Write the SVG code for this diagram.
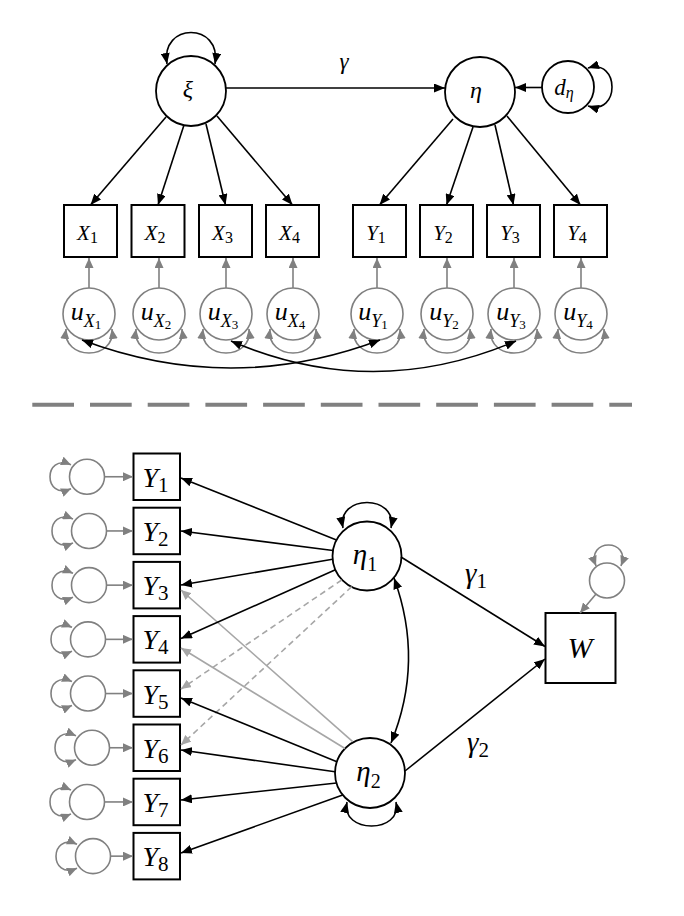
<svg xmlns="http://www.w3.org/2000/svg" width="684" height="916" viewBox="0 0 684 916">
<style>
.blk{stroke:#000;stroke-width:1.6;fill:none}
.box{fill:#fff;stroke:#000;stroke-width:2}
.lat{fill:#fff;stroke:#000;stroke-width:1.8}
.err{fill:#fff;stroke:#808080;stroke-width:1.6}
.gry{stroke:#808080;stroke-width:1.6;fill:none}
.lgt{stroke:#a6a6a6;stroke-width:1.6;fill:none}
.dsh{stroke:#a6a6a6;stroke-width:1.6;stroke-dasharray:6 4;fill:none}
.sep{stroke:#808080;stroke-width:4;stroke-dasharray:41.7 16;fill:none}
text{font-family:"Liberation Serif","DejaVu Serif",serif;fill:#000;text-anchor:middle}
.i{font-style:italic}
.ab{marker-end:url(#ah)}
.abb{marker-start:url(#ah);marker-end:url(#ah)}
.ag{marker-end:url(#ahg)}
.agg{marker-start:url(#ahg);marker-end:url(#ahg)}
.al{marker-end:url(#ahl)}
</style>
<defs>
<marker id="ah" viewBox="0 0 11 9" refX="11" refY="4.5" markerWidth="11" markerHeight="9" orient="auto-start-reverse" markerUnits="userSpaceOnUse"><path d="M0,0L11,4.5L0,9z" fill="#000"/></marker>
<marker id="ahg" viewBox="0 0 10 9" refX="10" refY="4.5" markerWidth="10" markerHeight="9" orient="auto-start-reverse" markerUnits="userSpaceOnUse"><path d="M0,0L10,4.5L0,9z" fill="#808080"/></marker>
<marker id="ahl" viewBox="0 0 10 9" refX="10" refY="4.5" markerWidth="10" markerHeight="9" orient="auto-start-reverse" markerUnits="userSpaceOnUse"><path d="M0,0L10,4.5L0,9z" fill="#a6a6a6"/></marker>
</defs>

<!-- TOP MODEL NODES -->
<g id="xi"><circle class="lat" cx="191" cy="91" r="35"/><text class="i" x="188" y="97" font-size="24">ξ</text></g>
<g id="eta"><circle class="lat" cx="480" cy="92" r="35"/><text class="i" x="476" y="98" font-size="24">η</text></g>
<g id="d_eta"><circle class="lat" cx="568" cy="87" r="26"/><text x="564" y="95"><tspan class="i" font-size="23">d</tspan><tspan class="i" font-size="16" dy="3">η</tspan></text></g>

<g id="X1"><rect class="box" x="64" y="205" width="53" height="52"/><text x="87.5" y="240"><tspan class="i" font-size="21">X</tspan><tspan font-size="16" dy="3">1</tspan></text></g>
<g id="X2"><rect class="box" x="131.5" y="205" width="53" height="52"/><text x="155" y="240"><tspan class="i" font-size="21">X</tspan><tspan font-size="16" dy="3">2</tspan></text></g>
<g id="X3"><rect class="box" x="199" y="205" width="53" height="52"/><text x="222.5" y="240"><tspan class="i" font-size="21">X</tspan><tspan font-size="16" dy="3">3</tspan></text></g>
<g id="X4"><rect class="box" x="266" y="205" width="53" height="52"/><text x="289.5" y="240"><tspan class="i" font-size="21">X</tspan><tspan font-size="16" dy="3">4</tspan></text></g>
<g id="Yt1"><rect class="box" x="353" y="205" width="53" height="52"/><text x="376" y="240"><tspan class="i" font-size="21">Y</tspan><tspan font-size="16" dy="3">1</tspan></text></g>
<g id="Yt2"><rect class="box" x="420" y="205" width="53" height="52"/><text x="443" y="240"><tspan class="i" font-size="21">Y</tspan><tspan font-size="16" dy="3">2</tspan></text></g>
<g id="Yt3"><rect class="box" x="487" y="205" width="53" height="52"/><text x="510" y="240"><tspan class="i" font-size="21">Y</tspan><tspan font-size="16" dy="3">3</tspan></text></g>
<g id="Yt4"><rect class="box" x="554" y="205" width="53" height="52"/><text x="577" y="240"><tspan class="i" font-size="21">Y</tspan><tspan font-size="16" dy="3">4</tspan></text></g>

<g id="uX1"><circle class="err" cx="89" cy="314" r="26"/><text x="86" y="320"><tspan class="i" font-size="26">u</tspan><tspan class="i" font-size="18" dy="7">X</tspan><tspan font-size="13" dy="2">1</tspan></text></g>
<g id="uX2"><circle class="err" cx="159" cy="314" r="26"/><text x="156" y="320"><tspan class="i" font-size="26">u</tspan><tspan class="i" font-size="18" dy="7">X</tspan><tspan font-size="13" dy="2">2</tspan></text></g>
<g id="uX3"><circle class="err" cx="226" cy="314" r="26"/><text x="223" y="320"><tspan class="i" font-size="26">u</tspan><tspan class="i" font-size="18" dy="7">X</tspan><tspan font-size="13" dy="2">3</tspan></text></g>
<g id="uX4"><circle class="err" cx="293" cy="314" r="26"/><text x="290" y="320"><tspan class="i" font-size="26">u</tspan><tspan class="i" font-size="18" dy="7">X</tspan><tspan font-size="13" dy="2">4</tspan></text></g>
<g id="uY1"><circle class="err" cx="377" cy="314" r="26"/><text x="373" y="320"><tspan class="i" font-size="26">u</tspan><tspan class="i" font-size="18" dy="7">Y</tspan><tspan font-size="13" dy="2">1</tspan></text></g>
<g id="uY2"><circle class="err" cx="447" cy="314" r="26"/><text x="444" y="320"><tspan class="i" font-size="26">u</tspan><tspan class="i" font-size="18" dy="7">Y</tspan><tspan font-size="13" dy="2">2</tspan></text></g>
<g id="uY3"><circle class="err" cx="514" cy="314" r="26"/><text x="511" y="320"><tspan class="i" font-size="26">u</tspan><tspan class="i" font-size="18" dy="7">Y</tspan><tspan font-size="13" dy="2">3</tspan></text></g>
<g id="uY4"><circle class="err" cx="581" cy="314" r="26"/><text x="578" y="320"><tspan class="i" font-size="26">u</tspan><tspan class="i" font-size="18" dy="7">Y</tspan><tspan font-size="13" dy="2">4</tspan></text></g>

<g id="separator"><line class="sep" x1="32.3" y1="404.7" x2="632" y2="404.7"/></g>

<!-- BOTTOM MODEL NODES -->
<g id="eta1"><circle class="lat" cx="367" cy="556" r="34.5"/><text x="365" y="564"><tspan class="i" font-size="29">η</tspan><tspan font-size="20" dy="7">1</tspan></text></g>
<g id="eta2"><circle class="lat" cx="370" cy="773" r="35"/><text x="368.5" y="781"><tspan class="i" font-size="29">η</tspan><tspan font-size="20" dy="7">2</tspan></text></g>
<g id="W"><rect class="box" x="545.5" y="613" width="70" height="70"/><text class="i" x="580" y="658" font-size="30">W</text></g>
<g id="eW"><circle class="err" cx="607" cy="580.5" r="17.5"/></g>

<g id="Y1"><rect class="box" x="133.5" y="453.5" width="46.5" height="46.5"/><text x="155.5" y="486.75"><tspan class="i" font-size="28">Y</tspan><tspan font-size="21" dy="5">1</tspan></text></g>
<g id="Y2"><rect class="box" x="133.5" y="507.7" width="46.5" height="46.5"/><text x="155.5" y="540.95"><tspan class="i" font-size="28">Y</tspan><tspan font-size="21" dy="5">2</tspan></text></g>
<g id="Y3"><rect class="box" x="133.5" y="561.9" width="46.5" height="46.5"/><text x="155.5" y="595.15"><tspan class="i" font-size="28">Y</tspan><tspan font-size="21" dy="5">3</tspan></text></g>
<g id="Y4"><rect class="box" x="133.5" y="616.1" width="46.5" height="46.5"/><text x="155.5" y="649.35"><tspan class="i" font-size="28">Y</tspan><tspan font-size="21" dy="5">4</tspan></text></g>
<g id="Y5"><rect class="box" x="133.5" y="670.3" width="46.5" height="46.5"/><text x="155.5" y="703.55"><tspan class="i" font-size="28">Y</tspan><tspan font-size="21" dy="5">5</tspan></text></g>
<g id="Y6"><rect class="box" x="133.5" y="724.5" width="46.5" height="46.5"/><text x="155.5" y="757.75"><tspan class="i" font-size="28">Y</tspan><tspan font-size="21" dy="5">6</tspan></text></g>
<g id="Y7"><rect class="box" x="133.5" y="778.7" width="46.5" height="46.5"/><text x="155.5" y="811.95"><tspan class="i" font-size="28">Y</tspan><tspan font-size="21" dy="5">7</tspan></text></g>
<g id="Y8"><rect class="box" x="133.5" y="832.9" width="46.5" height="46.5"/><text x="155.5" y="866.15"><tspan class="i" font-size="28">Y</tspan><tspan font-size="21" dy="5">8</tspan></text></g>

<g id="e1"><circle class="err" cx="87" cy="476.75" r="17.5"/></g>
<g id="e2"><circle class="err" cx="89" cy="530.95" r="17.5"/></g>
<g id="e3"><circle class="err" cx="89" cy="585.15" r="17.5"/></g>
<g id="e4"><circle class="err" cx="88" cy="639.35" r="17.5"/></g>
<g id="e5"><circle class="err" cx="88" cy="693.55" r="17.5"/></g>
<g id="e6"><circle class="err" cx="92" cy="747.75" r="17.5"/></g>
<g id="e7"><circle class="err" cx="87" cy="801.95" r="17.5"/></g>
<g id="e8"><circle class="err" cx="93" cy="856.15" r="17.5"/></g>

<g id="labels">
<text x="344" y="69" class="i" font-size="23">γ</text>
<text x="476" y="583"><tspan class="i" font-size="29">γ</tspan><tspan font-size="21" dy="5">1</tspan></text>
<text x="478" y="752"><tspan class="i" font-size="29">γ</tspan><tspan font-size="21" dy="5">2</tspan></text>
</g>

<g id="connectors">
<!-- top -->
<path class="blk abb" d="M167,64 C160,22 222,22 215,64"/>
<path class="blk ab" d="M226,88 L445,88"/>
<path class="blk ab" d="M542,87.5 L515,87.5"/>
<path class="blk abb" d="M588,68 C620,58 620,116 588,106"/>
<path class="blk ab" d="M166,117 L90.5,205"/>
<path class="blk ab" d="M184,125 L158,205"/>
<path class="blk ab" d="M206,124 L225.5,205"/>
<path class="blk ab" d="M217,116 L292.5,205"/>
<path class="blk ab" d="M453,119 L379.5,205"/>
<path class="blk ab" d="M473,127 L446.5,205"/>
<path class="blk ab" d="M495,125 L513.5,205"/>
<path class="blk ab" d="M507,116 L580.5,205"/>
<path class="gry ag" d="M89,288 L89,258"/>
<path class="gry ag" d="M159,288 L159,258"/>
<path class="gry ag" d="M226,288 L226,258"/>
<path class="gry ag" d="M293,288 L293,258"/>
<path class="gry ag" d="M377,288 L377,258"/>
<path class="gry ag" d="M447,288 L447,258"/>
<path class="gry ag" d="M514,288 L514,258"/>
<path class="gry ag" d="M581,288 L581,258"/>
<path class="gry agg" d="M66,329 C62,361 116,361 112,329"/>
<path class="gry agg" d="M136,329 C132,361 186,361 182,329"/>
<path class="gry agg" d="M203,329 C199,361 253,361 249,329"/>
<path class="gry agg" d="M270,329 C266,361 320,361 316,329"/>
<path class="gry agg" d="M354,329 C350,361 404,361 400,329"/>
<path class="gry agg" d="M424,329 C420,361 474,361 470,329"/>
<path class="gry agg" d="M491,329 C487,361 541,361 537,329"/>
<path class="gry agg" d="M558,329 C554,361 608,361 604,329"/>
<path class="blk abb" d="M82,340 Q231,396 380,340"/>
<path class="blk abb" d="M231,341 Q373,402 516,341"/>
<!-- bottom -->
<path class="gry agg" d="M71,464.75 C43,452.75 43,500.75 71,488.75"/>
<path class="gry agg" d="M73,518.95 C45,506.95 45,554.95 73,542.95"/>
<path class="gry agg" d="M73,573.15 C45,561.15 45,609.15 73,597.15"/>
<path class="gry agg" d="M72,627.35 C44,615.35 44,663.35 72,651.35"/>
<path class="gry agg" d="M72,681.55 C44,669.55 44,717.55 72,705.55"/>
<path class="gry agg" d="M76,735.75 C48,723.75 48,771.75 76,759.75"/>
<path class="gry agg" d="M71,789.95 C43,777.95 43,825.95 71,813.95"/>
<path class="gry agg" d="M77,844.15 C49,832.15 49,880.15 77,868.15"/>
<path class="gry ag" d="M104.5,476.75 L133,476.75"/>
<path class="gry ag" d="M106.5,530.95 L133,530.95"/>
<path class="gry ag" d="M106.5,585.15 L133,585.15"/>
<path class="gry ag" d="M105.5,639.35 L133,639.35"/>
<path class="gry ag" d="M105.5,693.55 L133,693.55"/>
<path class="gry ag" d="M109.5,747.75 L133,747.75"/>
<path class="gry ag" d="M104.5,801.95 L133,801.95"/>
<path class="gry ag" d="M110.5,856.15 L133,856.15"/>
<path class="lgt al" d="M352.7,741.7 L181,590"/>
<path class="lgt al" d="M345,748.5 L181,648"/>
<path class="dsh al" d="M341.7,580 L181,689"/>
<path class="dsh al" d="M351.7,586.7 L181,745"/>
<path class="blk ab" d="M336.5,540 L181,478"/>
<path class="blk ab" d="M333,550.5 L181,531"/>
<path class="blk ab" d="M332.6,559.2 L181,585"/>
<path class="blk ab" d="M335.4,569.8 L181,638.5"/>
<path class="blk ab" d="M336.9,761.7 L181,698"/>
<path class="blk ab" d="M335,771.7 L181,750"/>
<path class="blk ab" d="M336.5,783 L181,800"/>
<path class="blk ab" d="M342.7,794.9 L181,853"/>
<path class="blk abb" d="M343,528 C336,494 398,494 391,528"/>
<path class="blk abb" d="M347,802 C340,834 403,834 396,802"/>
<path class="blk abb" d="M394,578 Q424.5,661.5 391,743"/>
<path class="blk ab" d="M401,557 L545,646.5"/>
<path class="blk ab" d="M405,771 L545,659"/>
<path class="gry agg" d="M596,566 C585,538 632,538 621,566"/>
<path class="gry ag" d="M596,594 L580,613"/>
</g>
</svg>
